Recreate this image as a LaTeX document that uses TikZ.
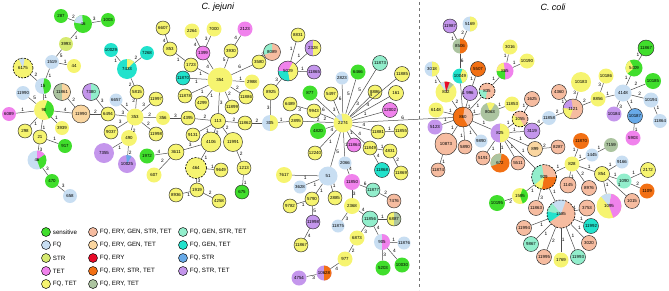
\documentclass[tikz,border=0pt]{standalone}
\usepackage{fontspec}
\setmainfont{Liberation Sans}
\usetikzlibrary{positioning}

% resistance profiles
\definecolor{cSens}{RGB}{64,222,44}
\definecolor{cFQ}{RGB}{200,222,242}
\definecolor{cSTR}{RGB}{214,234,112}
\definecolor{cTET}{RGB}{240,130,236}
\definecolor{cFQTET}{RGB}{246,244,112}
\definecolor{cFEGST}{RGB}{246,188,160}
\definecolor{cFEGT}{RGB}{250,214,160}
\definecolor{cFE}{RGB}{232,10,40}
\definecolor{cFEST}{RGB}{242,112,20}
\definecolor{cFET}{RGB}{172,196,160}
\definecolor{cFGST}{RGB}{146,238,204}
\definecolor{cFGT}{RGB}{34,226,204}
\definecolor{cFS}{RGB}{104,170,232}
\definecolor{cFST}{RGB}{196,150,236}

% one slice of a pie node: start angle, end angle, colour
\newcommand{\wdg}[3]{\fill[#3, x=1cm, y=1cm] (path picture bounding box.center) -- ++(#1:1) arc[start angle=#1, end angle=#2, radius=1] -- cycle;}

\begin{document}
\begin{tikzpicture}[
    x=1pt, y=-1pt,
    % GLOBAL CFG
    font=\fontsize{6.2}{7}\selectfont,
    % Styles
    stnode/.style={% one sequence type
        circle,
        inner sep=0pt,
        minimum size=14pt,
        font=\fontsize{4.4}{5}\selectfont,
        },
    ol/.style={% black rim
        draw=black!85,
        line width=.45pt,
        },
    dsh/.style={% dashed rim
        draw=black,
        line width=.6pt,
        dash pattern=on 2pt off 1.2pt,
        },
    pie/.style={% mixed profiles
        path picture={#1},
        },
    lnk/.style={% tree links
        draw=black!70,
        line width=.5pt,
        },
    lab/.style={% allele differences
        font=\fontsize{4.8}{5}\selectfont,
        inner sep=.7pt,
        auto,
        },
    key/.style={% legend dots
        circle,
        draw,
        line width=.45pt,
        minimum size=9pt,
        inner sep=0pt,
        },
    keytext/.style={% legend text
        inner sep=0pt,
        },
    ]

\useasboundingbox (0,0) rectangle (669,290);

% Titles and divider
\node [font=\fontsize{9}{10}\selectfont\itshape] (tjej) at (218,7) {C. jejuni};
\node [font=\fontsize{9}{10}\selectfont\itshape] (tcoli) at (553,7) {C. coli};
\coordinate (divtop) at (419,2);
\coordinate (divbot) at (419,290);
\draw [black!55, line width=.8pt, dash pattern=on 3pt off 3pt] (divtop) -- (divbot);

% C. jejuni, left part
\node [stnode, fill=cSens] (n287) at (61,16) {287};
\node [stnode, fill=cSens, minimum size=18pt, pie={\wdg{95}{170}{cFQ}}] (n46a) at (83,24) {46};
\node [stnode, fill=cSens] (n1003) at (108,20) {1003};
\node [stnode, fill=cSTR] (n3993) at (66,44) {3993};
\node [stnode, fill=cFQ] (n1519) at (52,62) {1519};
\node [stnode, fill=cFQTET] (n44) at (74,66) {44};
\node [stnode, fill=cFQTET, dsh, minimum size=20pt, pie={\wdg{80}{115}{cFQ}}] (n6175) at (23,68) {6175};
\node [stnode, fill=cFQ, minimum size=16pt, pie={\wdg{-80}{80}{cSens}}] (n15) at (43,86) {15};
\node [stnode, fill=cFQ] (n11990a) at (23,93) {11990};
\node [stnode, fill=cFQTET, minimum size=20pt, pie={\wdg{-60}{70}{cSens}}] (n90) at (44,110) {90};
\node [stnode, fill=cTET] (n6089) at (9,114) {6089};
\node [stnode, fill=cFQTET, ol] (n298) at (25,131) {298};
\node [stnode, fill=cFQTET, ol] (n21) at (40,137) {21};
\node [stnode, fill=cFQTET] (n3939) at (62,128) {3939};
\node [stnode, fill=cSens] (n917) at (65,146) {917};
\node [stnode, fill=cFQ, minimum size=19pt, pie={\wdg{35}{90}{cTET}\wdg{-70}{35}{cSens}}] (n46b) at (37,160) {46};
\node [stnode, fill=cSens] (n470) at (52,181) {470};
\node [stnode, fill=cFQ] (n658) at (70,196) {658};
\node [stnode, fill=cFET, ol, minimum size=17pt, pie={\wdg{-90}{90}{cFEGT}}] (n11861) at (62,92) {11861};
\node [stnode, fill=cFEGT, ol, minimum size=18pt] (n11990b) at (81,114) {11990};
\node [stnode, fill=cFST, ol, minimum size=17pt, pie={\wdg{-90}{90}{cFGST}}] (n7380) at (91,92) {7380};
\node [stnode, fill=cFQTET, ol] (n6494) at (108,114) {6494};
\node [stnode, fill=cFQ, minimum size=13pt] (n6657) at (116,100) {6657};
\node [stnode, fill=cFQTET, minimum size=17pt] (n353) at (135,117) {353};
\node [stnode, fill=cFGT] (n10029) at (111,50) {10029};
\node [stnode, fill=cFGT] (n7268) at (147,53) {7268};
\node [stnode, fill=cFGT, minimum size=20pt, pie={\wdg{45}{90}{cFQTET}}] (n7433) at (127,69) {7433};
\node [stnode, fill=cFQTET, ol] (n5815) at (137,92) {5815};
\node [stnode, fill=cFQTET, ol] (n11997) at (156,99) {11997};
\node [stnode, fill=cFQTET] (n356) at (163,118) {356};
\node [stnode, fill=cFQTET, ol] (n11998a) at (156,134) {11998};
\node [stnode, fill=cFQTET, ol] (n9037) at (111,132) {9037};
\node [stnode, fill=cFQTET, minimum size=16pt] (n490) at (129,138) {490};
\node [stnode, fill=cFST, minimum size=20pt] (n7355) at (104,153) {7355};
\node [stnode, fill=cFST, minimum size=18pt, pie={\wdg{60}{95}{cFS}}] (n10025) at (127,164) {10025};
\node [stnode, fill=cFQTET, ol] (n6607) at (163,28) {6607};
\node [stnode, fill=cFQTET, ol] (n4395) at (188,118) {4395};
\node [stnode, fill=cSens, minimum size=15pt] (n1972) at (147,156) {1972};
\node [stnode, fill=cFQTET, ol, minimum size=16pt] (n3611) at (176,152) {3611};
\node [stnode, fill=cFQTET, minimum size=15pt] (n607) at (154,175) {607};

% C. jejuni, around 354 and 113
\node [stnode, fill=cFQTET, ol] (n853) at (170,49) {853};
\node [stnode, fill=cFQTET, minimum size=15pt] (n2264) at (192,31) {2264};
\node [stnode, fill=cFQTET, minimum size=15pt] (n7000) at (214,29) {7000};
\node [stnode, fill=cTET, minimum size=15pt] (n2123) at (245,29) {2123};
\node [stnode, fill=cTET, ol] (n1399) at (203,53) {1399};
\node [stnode, fill=cFQTET, ol] (n3930) at (231,51) {3930};
\node [stnode, fill=cFEGST, ol, minimum size=17pt, pie={\wdg{90}{200}{cFGST}}] (n8089) at (272,52) {8089};
\node [stnode, fill=cFQTET, ol] (n1723) at (191,65) {1723};
\node [stnode, fill=cFQTET, ol] (n3580) at (259,62) {3580};
\node [stnode, fill=cFGT, ol] (n11870j) at (183,78) {11870};
\node [stnode, fill=cFQTET, minimum size=25pt] (n354) at (220,80) {354};
\node [stnode, fill=cFQTET, minimum size=15pt] (n2988) at (252,82) {2988};
\node [stnode, fill=cFQTET, ol] (n11878) at (185,96) {11878};
\node [stnode, fill=cFQTET, ol] (n11886) at (246,97) {11886};
\node [stnode, fill=cFQTET, ol] (n4299) at (202,103) {4299};
\node [stnode, fill=cFQTET, ol] (n11899) at (232,107) {11899};
\node [stnode, fill=cFQTET, ol] (n8831) at (298,35) {8831};
\node [stnode, fill=cFST, ol, minimum size=16pt, pie={\wdg{-90}{90}{cFQTET}}] (n2328) at (313,48) {2328};
\node [stnode, fill=cFST, ol, minimum size=20pt, pie={\wdg{60}{180}{cTET}\wdg{180}{280}{cFGT}\wdg{280}{420}{cFQTET}}] (n5029) at (288,71) {5029};
\node [stnode, fill=cFST, ol] (n11865) at (314,72) {11865};
\node [stnode, fill=cFQTET, ol, minimum size=16pt] (n8925) at (271,92) {8925};
\node [stnode, fill=cFQTET, ol, minimum size=15pt] (n113) at (218,121) {113};
\node [stnode, fill=cFQTET, ol] (n11862) at (245,123) {11862};
\node [stnode, fill=cFQ, minimum size=16pt, pie={\wdg{-90}{90}{cFQTET}}] (n305) at (270,123) {305};
\node [stnode, fill=cFQTET, ol] (n2895) at (296,121) {2895};
\node [stnode, fill=cFQTET, ol] (n9131) at (193,135) {9131};
\node [stnode, fill=cFQTET, ol, minimum size=20pt] (n4106) at (211,142) {4106};
\node [stnode, fill=cFQTET, ol, minimum size=19pt] (n11991) at (233,142) {11991};
\node [stnode, fill=cFQTET, dsh, minimum size=21pt] (n464) at (196,168) {464};
\node [stnode, fill=cFQTET, ol] (n9649) at (221,170) {9649};
\node [stnode, fill=cFQTET, ol] (n1213) at (244,168) {1213};
\node [stnode, fill=cSens, ol] (n675) at (242,192) {675};
\node [stnode, fill=cFQTET, ol] (n1919) at (197,190) {1919};
\node [stnode, fill=cFQTET, ol] (n8936) at (176,195) {8936};
\node [stnode, fill=cFQTET, ol] (n4258) at (219,201) {4258};

% C. jejuni, around 2274 and 51
\node [stnode, fill=cFQTET, minimum size=19pt, pie={\wdg{100}{140}{cFQ}}] (n2274) at (343,123) {2274};
\node [stnode, fill=cSens, minimum size=15pt] (n877) at (310,93) {877};
\node [stnode, fill=cFQTET, ol] (n6489) at (290,104) {6489};
\node [stnode, fill=cFQTET, ol] (n9943) at (314,111) {9943};
\node [stnode, fill=cSens, minimum size=16pt] (n4820) at (318,131) {4820};
\node [stnode, fill=cFQTET, ol] (n5497) at (331,94) {5497};
\node [stnode, fill=cFQ, minimum size=13pt] (n2823) at (342,78) {2823};
\node [stnode, fill=cSens, minimum size=15pt] (n6466) at (358,72) {6466};
\node [stnode, fill=cFGST, ol, minimum size=15pt] (n11873) at (380,63) {11873};
\node [stnode, fill=cFQTET, ol, minimum size=15pt] (n11885) at (402,74) {11885};
\node [stnode, fill=cFQTET, ol] (n8886) at (375,92) {8886};
\node [stnode, fill=cFQTET, ol, minimum size=15pt] (n161) at (396,93) {161};
\node [stnode, fill=cTET, ol, minimum size=15pt] (n12002) at (390,110) {12002};
\node [stnode, fill=cFQTET, ol] (n11881) at (378,132) {11881};
\node [stnode, fill=cFQTET, ol] (n11855) at (401,131) {11855};
\node [stnode, fill=cTET, ol] (n11864j) at (354,145) {11864};
\node [stnode, fill=cFQTET, ol] (n11849) at (370,148) {11849};
\node [stnode, fill=cFQTET, ol] (n4831) at (390,151) {4831};
\node [stnode, fill=cFQTET, ol] (n12240) at (315,153) {12240};
\node [stnode, fill=cFQ, minimum size=13pt] (n2066) at (345,163) {2066};
\node [stnode, fill=cFGT, ol, minimum size=15pt] (n11868) at (382,170) {11868};
\node [stnode, fill=cFQTET, ol] (n11869) at (401,173) {11869};
\node [stnode, fill=cFQ, minimum size=19pt] (n51) at (328,176) {51};
\node [stnode, fill=cFQTET, minimum size=16pt] (n7617) at (284,175) {7617};
\node [stnode, fill=cFQ, minimum size=13pt] (n3628) at (300,187) {3628};
\node [stnode, fill=cFQTET, ol] (n5790) at (312,199) {5790};
\node [stnode, fill=cFQTET, ol] (n9782) at (290,206) {9782};
\node [stnode, fill=cFQTET, ol] (n2885) at (335,198) {2885};
\node [stnode, fill=cFST, ol] (n11998b) at (313,222) {11998};
\node [stnode, fill=cFQTET, ol] (n11867j) at (301,245) {11867};
\node [stnode, fill=cTET, minimum size=16pt] (n11850) at (352,182) {11850};
\node [stnode, fill=cFGST, ol] (n11877) at (373,190) {11877};
\node [stnode, fill=cFEGST, ol] (n7476) at (394,201) {7476};
\node [stnode, fill=cFQTET, minimum size=16pt] (n2368) at (352,206) {2368};
\node [stnode, fill=cFQ, minimum size=13pt] (n11875) at (338,226) {11875};
\node [stnode, fill=cFGST, ol, minimum size=16pt] (n11856) at (370,219) {11856};
\node [stnode, fill=cFQTET, ol, pie={\wdg{-90}{90}{cFET}}] (n6887) at (394,219) {6887};
\node [stnode, fill=cFQTET, minimum size=15pt] (n6873) at (357,238) {6873};
\node [stnode, fill=cFQ, minimum size=16pt, pie={\wdg{-90}{90}{cTET}}] (n905) at (382,242) {905};
\node [stnode, fill=cFQ, minimum size=13pt] (n11876) at (404,243) {11876};
\node [stnode, fill=cFQTET, minimum size=15pt] (n977) at (345,259) {977};
\node [stnode, fill=cSens, minimum size=15pt] (n5203) at (383,268) {5203};
\node [stnode, fill=cSens, minimum size=15pt] (n10030) at (402,265) {10030};
\node [stnode, fill=cFST, minimum size=15pt, pie={\wdg{-90}{90}{cFEST}}] (n10628) at (324,273) {10628};
\node [stnode, fill=cFST, minimum size=15pt] (n4754) at (299,278) {4754};

% C. coli, around 860 and 825
\node [stnode, fill=cFST, ol] (n11987) at (450,26) {11987};
\node [stnode, fill=cFQ, minimum size=15pt, pie={\wdg{-90}{90}{cFQTET}}] (n5169) at (470,24) {5169};
\node [stnode, fill=cFET, minimum size=15pt, pie={\wdg{-90}{90}{cFEST}}] (n8506) at (460,46) {8506};
\node [stnode, fill=cFQ, minimum size=15pt, pie={\wdg{-90}{90}{cFQTET}}] (n3018) at (432,69) {3018};
\node [stnode, fill=cFGT, minimum size=15pt, pie={\wdg{-70}{70}{cFQTET}}] (n10049) at (460,76) {10049};
\node [stnode, fill=cFEST, ol, minimum size=15pt] (n5507) at (478,69) {5507};
\node [stnode, fill=cTET, minimum size=17pt, pie={\wdg{100}{180}{cFQTET}\wdg{180}{270}{cSens}}] (n865) at (505,71) {865};
\node [stnode, fill=cFQTET, minimum size=15pt] (n3016) at (510,47) {3016};
\node [stnode, fill=cFQTET, minimum size=15pt] (n10190) at (527,61) {10190};
\node [stnode, fill=cFQTET, minimum size=21pt, pie={\wdg{45}{70}{cFET}\wdg{70}{100}{cFE}\wdg{100}{125}{cFQ}}] (n832) at (446,92) {832};
\node [stnode, fill=cFST, ol, minimum size=15pt] (n996) at (470,93) {996};
\node [stnode, fill=cFEGST, dsh, minimum size=16pt, pie={\wdg{170}{260}{cFGST}}] (n835) at (487,91) {835};
\node [stnode, fill=cFET, minimum size=19pt, pie={\wdg{60}{110}{cFQTET}}] (n8063) at (490,112) {8063};
\node [stnode, fill=cFQTET, minimum size=15pt] (n11853) at (512,104) {11853};
\node [stnode, fill=cFEGST, ol, minimum size=15pt] (n1625) at (532,99) {1625};
\node [stnode, fill=cFEGST, ol, minimum size=15pt] (n4360) at (559,92) {4360};
\node [stnode, fill=cFQTET, minimum size=15pt] (n6148) at (436,110) {6148};
\node [stnode, fill=cFEST, ol, minimum size=20pt, pie={\wdg{-60}{80}{cFEGST}}] (n860) at (463,117) {860};
\node [stnode, fill=cFST, minimum size=15pt] (n5123) at (435,127) {5123};
\node [stnode, fill=cFEGST, ol, minimum size=22pt] (n10873) at (446,144) {10873};
\node [stnode, fill=cFEGST, ol] (n5890) at (465,147) {5890};
\node [stnode, fill=cFQ, minimum size=13pt] (n9890) at (481,141) {9890};
\node [stnode, fill=cFEGST, ol] (n11874c) at (438,170) {11874};
\node [stnode, fill=cFEGST, dsh, minimum size=16pt, pie={\wdg{150}{300}{cFQTET}}] (n1055) at (520,119) {1055};
\node [stnode, fill=cFQ, minimum size=14pt] (n11858) at (549,118) {11858};
\node [stnode, fill=cFST, minimum size=19pt, pie={\wdg{-90}{90}{cFQTET}}] (n825) at (500,133) {825};
\node [stnode, fill=cFST, ol, minimum size=16pt] (n3119) at (532,131) {3119};
\node [stnode, fill=cFEGT, ol, minimum size=15pt] (n899) at (535,149) {899};
\node [stnode, fill=cFEGST, ol] (n8287) at (558,147) {8287};
\node [stnode, fill=cFEGST, ol] (n5191) at (483,158) {5191};
\node [stnode, fill=cFEST, minimum size=19pt, pie={\wdg{80}{200}{cFET}}] (n672) at (500,163) {672};
\node [stnode, fill=cFEGST, ol] (n5511) at (518,163) {5511};

% C. coli, around 1121 and 4148
\node [stnode, fill=cFQTET, minimum size=20pt] (n10183) at (581,82) {10183};
\node [stnode, fill=cFEGST, ol, minimum size=20pt, pie={\wdg{100}{175}{cFST}\wdg{175}{250}{cFQTET}}] (n1121) at (573,109) {1121};
\node [stnode, fill=cFQTET, minimum size=15pt] (n8856) at (598,99) {8856};
\node [stnode, fill=cFQTET, minimum size=15pt] (n10186) at (606,76) {10186};
\node [stnode, fill=cFQ, minimum size=17pt] (n4148) at (623,93) {4148};
\node [stnode, fill=cSens, minimum size=17pt, pie={\wdg{120}{220}{cFQTET}}] (n5409) at (634,68) {5409};
\node [stnode, fill=cSens, ol, minimum size=16pt] (n11867c) at (646,48) {11867};
\node [stnode, fill=cSens, minimum size=16pt] (n10185) at (653,81) {10185};
\node [stnode, fill=cFQ, minimum size=15pt] (n10194) at (651,100) {10194};
\node [stnode, fill=cFST, minimum size=15pt] (n10184) at (614,114) {10184};
\node [stnode, fill=cFS, ol, minimum size=15pt] (n10187) at (635,116) {10187};
\node [stnode, fill=cFQ, minimum size=14pt] (n11864c) at (660,121) {11864};
\node [stnode, fill=cTET, minimum size=15pt] (n5903) at (633,138) {5903};

% C. coli, around 929, 828 and 1585
\node [stnode, fill=cFEST, minimum size=16pt] (n11870c) at (581,141) {11870};
\node [stnode, fill=cFET, minimum size=14pt] (n7159) at (611,145) {7159};
\node [stnode, fill=cFQ, minimum size=13pt] (n1445) at (592,155) {1445};
\node [stnode, fill=cFQ, minimum size=13pt] (n9166) at (622,162) {9166};
\node [stnode, fill=cFQTET, minimum size=15pt] (n828) at (572,164) {828};
\node [stnode, fill=cFQTET, ol, minimum size=15pt] (n854) at (602,174) {854};
\node [stnode, fill=cFQTET, ol, minimum size=15pt] (n2172) at (648,170) {2172};
\node [stnode, fill=cFGST, dsh, minimum size=25pt, pie={\wdg{0}{100}{cFEGST}\wdg{-100}{0}{cFEST}\wdg{220}{260}{cFQTET}}] (n929) at (544,177) {929};
\node [stnode, fill=cFEGST, ol, minimum size=16pt] (n1145) at (568,185) {1145};
\node [stnode, fill=cFEGST, ol, minimum size=15pt] (n8976) at (589,188) {8976};
\node [stnode, fill=cFGST, minimum size=15pt] (n1090) at (624,181) {1090};
\node [stnode, fill=cFEST, minimum size=15pt] (n1109) at (647,191) {1109};
\node [stnode, fill=cFEGST, ol, minimum size=15pt] (n1015) at (632,201) {1015};
\node [stnode, fill=cFQTET, minimum size=25pt, pie={\wdg{-70}{80}{cTET}\wdg{80}{130}{cFQ}}] (n1095) at (609,206) {1095};
\node [stnode, fill=cFQTET, minimum size=16pt, pie={\wdg{-70}{70}{cSens}}] (n1595) at (520,196) {1595};
\node [stnode, fill=cSens, minimum size=16pt] (n10195) at (497,203) {10195};
\node [stnode, fill=cFEGST, ol, minimum size=15pt] (n11863) at (536,208) {11863};
\node [stnode, fill=cFEGST, dsh, minimum size=28pt, pie={\wdg{70}{130}{cFQ}\wdg{130}{170}{cFGST}\wdg{170}{215}{cFGT}}] (n1585) at (561,214) {1585};
\node [stnode, fill=cFEGST, ol, minimum size=16pt] (n3753) at (587,208) {3753};
\node [stnode, fill=cFEGST, ol, minimum size=15pt] (n11994) at (524,228) {11994};
\node [stnode, fill=cFGT, ol, minimum size=15pt] (n11992) at (591,226) {11992};
\node [stnode, fill=cFGST, ol, minimum size=15pt] (n9867) at (531,244) {9867};
\node [stnode, fill=cFEGST, ol, minimum size=15pt] (n3020) at (589,243) {3020};
\node [stnode, fill=cFEGST, ol, minimum size=15pt] (n11995) at (544,257) {11995};
\node [stnode, fill=cFQTET, minimum size=15pt] (n1769) at (561,260) {1769};
\node [stnode, fill=cFGST, ol, minimum size=15pt] (n11993) at (578,257) {11993};

% Links, C. jejuni left part
\draw [lnk] (n287) -- node[lab]{2} (n46a);
\draw [lnk] (n46a) -- node[lab]{3} (n1003);
\draw [lnk] (n46a) -- node[lab]{1} (n3993);
\draw [lnk] (n3993) -- node[lab]{5} (n1519);
\draw [lnk] (n1519) -- node[lab]{1} (n44);
\draw [lnk] (n1519) -- node[lab]{1} (n15);
\draw [lnk] (n6175) -- node[lab]{2} (n15);
\draw [lnk] (n15) -- node[lab]{1} (n90);
\draw [lnk] (n11990a) -- node[lab]{5} (n90);
\draw [lnk] (n6089) -- node[lab]{1} (n90);
\draw [lnk] (n90) -- node[lab]{1} (n298);
\draw [lnk] (n90) -- node[lab]{1} (n21);
\draw [lnk] (n90) -- node[lab]{1} (n3939);
\draw [lnk] (n90) -- node[lab]{4} (n11990b);
\draw [lnk] (n11861) -- node[lab]{2} (n11990b);
\draw [lnk] (n11990b) -- node[lab]{2} (n6494);
\draw [lnk] (n7380) -- node[lab]{3} (n6494);
\draw [lnk] (n6494) -- node[lab]{3} (n353);
\draw [lnk] (n6657) -- node[lab]{1} (n353);
\draw [lnk] (n9037) -- node[lab]{3} (n353);
\draw [lnk] (n353) -- node[lab]{2} (n490);
\draw [lnk] (n353) -- node[lab]{2} (n5815);
\draw [lnk] (n5815) -- node[lab]{2} (n7433);
\draw [lnk] (n7433) -- node[lab]{1} (n10029);
\draw [lnk] (n7433) -- node[lab]{2} (n7268);
\draw [lnk] (n353) -- node[lab]{3} (n11997);
\draw [lnk] (n353) -- node[lab]{2} (n356);
\draw [lnk] (n353) -- node[lab]{2} (n11998a);
\draw [lnk] (n21) -- node[lab]{1} (n917);
\draw [lnk] (n21) -- node[lab]{3} (n46b);
\draw [lnk] (n46b) -- node[lab]{3} (n470);
\draw [lnk] (n470) -- node[lab]{3} (n658);
\draw [lnk] (n490) -- node[lab]{1} (n7355);
\draw [lnk] (n490) -- node[lab]{2} (n10025);
\draw [lnk] (n356) -- node[lab]{3} (n4395);
\draw [lnk] (n4395) -- node[lab]{2} (n113);
\draw [lnk] (n1972) -- node[lab]{4} (n3611);
\draw [lnk] (n607) -- node[lab]{2} (n3611);
\draw [lnk] (n3611) -- node[lab]{3} (n4106);

% Links, around 354 and 113
\draw [lnk] (n113) -- node[lab]{1} (n9131);
\draw [lnk] (n113) -- node[lab]{2} (n4106);
\draw [lnk] (n113) -- node[lab]{2} (n11991);
\draw [lnk] (n113) -- node[lab]{2} (n11862);
\draw [lnk] (n354) -- node[lab]{3} (n113);
\draw [lnk] (n11862) -- node[lab]{2} (n305);
\draw [lnk] (n305) -- node[lab]{3} (n8925);
\draw [lnk] (n305) -- node[lab]{1} (n2895);
\draw [lnk] (n4106) -- node[lab]{1} (n464);
\draw [lnk] (n464) -- node[lab]{1} (n9649);
\draw [lnk] (n464) -- node[lab]{3} (n1919);
\draw [lnk] (n1919) -- node[lab]{1} (n8936);
\draw [lnk] (n1919) -- node[lab]{2} (n4258);
\draw [lnk] (n11991) -- node[lab]{2} (n1213);
\draw [lnk] (n1213) -- node[lab]{1} (n675);
\draw [lnk] (n354) -- node[lab]{1} (n1723);
\draw [lnk] (n354) -- node[lab]{1} (n11870j);
\draw [lnk] (n354) -- node[lab]{1} (n11878);
\draw [lnk] (n354) -- node[lab]{1} (n4299);
\draw [lnk] (n354) -- node[lab]{2} (n11899);
\draw [lnk] (n354) -- node[lab]{2} (n11886);
\draw [lnk] (n354) -- node[lab]{1} (n2988);
\draw [lnk] (n354) -- node[lab]{6} (n3580);
\draw [lnk] (n354) -- node[lab]{5} (n3930);
\draw [lnk] (n354) -- node[lab]{4} (n1399);
\draw [lnk] (n1723) -- node[lab]{1} (n853);
\draw [lnk] (n853) -- node[lab]{4} (n6607);
\draw [lnk] (n1399) -- node[lab]{4} (n2264);
\draw [lnk] (n1399) -- node[lab]{3} (n7000);
\draw [lnk] (n3930) -- node[lab]{4} (n2123);
\draw [lnk] (n3580) -- node[lab]{2} (n8089);
\draw [lnk] (n8925) -- node[lab]{3} (n5029);
\draw [lnk] (n5029) -- node[lab]{1} (n8831);
\draw [lnk] (n5029) -- node[lab]{1} (n2328);
\draw [lnk] (n5029) -- node[lab]{1} (n11865);

% Links, around 2274 and 51
\draw [lnk] (n2895) -- node[lab]{2} (n2274);
\draw [lnk] (n2274) -- node[lab]{6} (n2823);
\draw [lnk] (n2274) -- node[lab]{5} (n6466);
\draw [lnk] (n2274) -- node[lab]{5} (n11873);
\draw [lnk] (n2274) -- node[lab]{3} (n8886);
\draw [lnk] (n2274) -- node[lab]{4} (n11885);
\draw [lnk] (n2274) -- node[lab]{4} (n161);
\draw [lnk] (n2274) -- node[lab]{1} (n12002);
\draw [lnk] (n2274) -- node[lab]{3} (n5497);
\draw [lnk] (n2274) -- node[lab]{6} (n877);
\draw [lnk] (n2274) -- node[lab]{2} (n9943);
\draw [lnk] (n9943) -- node[lab]{3} (n6489);
\draw [lnk] (n2274) -- node[lab]{4} (n4820);
\draw [lnk] (n2274) -- node[lab]{1} (n12240);
\draw [lnk] (n2274) -- node[lab]{5} (n51);
\draw [lnk] (n2274) -- node[lab]{1} (n2066);
\draw [lnk] (n2274) -- node[lab]{1} (n11864j);
\draw [lnk] (n2274) -- node[lab]{4} (n11849);
\draw [lnk] (n2274) -- node[lab]{4} (n11881);
\draw [lnk] (n11881) -- node[lab]{1} (n11855);
\draw [lnk] (n11849) -- node[lab]{1} (n4831);
\draw [lnk] (n4831) -- node[lab]{2} (n11869);
\draw [lnk] (n11849) -- node[lab]{4} (n11868);
\draw [lnk] (n51) -- node[lab]{1} (n7617);
\draw [lnk] (n51) -- node[lab]{1} (n3628);
\draw [lnk] (n51) -- node[lab]{1} (n5790);
\draw [lnk] (n51) -- node[lab]{1} (n2885);
\draw [lnk] (n5790) -- node[lab]{1} (n9782);
\draw [lnk] (n5790) -- node[lab]{5} (n11998b);
\draw [lnk] (n11998b) -- node[lab]{4} (n11867j);
\draw [lnk] (n2066) -- node[lab]{4} (n11850);
\draw [lnk] (n11850) -- node[lab]{6} (n11877);
\draw [lnk] (n11877) -- node[lab]{2} (n7476);
\draw [lnk] (n11850) -- node[lab]{3} (n2368);
\draw [lnk] (n2368) -- node[lab]{3} (n11875);
\draw [lnk] (n2368) -- node[lab]{4} (n11856);
\draw [lnk] (n11856) -- node[lab]{1} (n6887);
\draw [lnk] (n11856) -- node[lab]{3} (n6873);
\draw [lnk] (n11856) -- node[lab]{4} (n905);
\draw [lnk] (n905) -- node[lab]{1} (n11876);
\draw [lnk] (n905) -- node[lab]{3} (n5203);
\draw [lnk] (n905) -- node[lab]{4} (n10030);
\draw [lnk] (n6873) -- node[lab]{2} (n977);
\draw [lnk] (n977) -- node[lab]{4} (n10628);
\draw [lnk] (n10628) -- node[lab]{3} (n4754);

% Link across the divider
\draw [lnk] (n2274) -- node[lab]{6} (n860);

% Links, C. coli
\draw [lnk] (n8506) -- node[lab]{1} (n11987);
\draw [lnk] (n8506) -- node[lab]{2} (n5169);
\draw [lnk] (n8506) -- node[lab]{6} (n10049);
\draw [lnk] (n10049) -- node[lab]{1} (n860);
\draw [lnk] (n832) -- node[lab]{1} (n3018);
\draw [lnk] (n832) -- node[lab]{2} (n860);
\draw [lnk] (n996) -- node[lab]{1} (n860);
\draw [lnk] (n996) -- node[lab]{1} (n5507);
\draw [lnk] (n835) -- node[lab]{1} (n860);
\draw [lnk] (n835) -- node[lab]{1} (n865);
\draw [lnk] (n865) -- node[lab]{1} (n3016);
\draw [lnk] (n865) -- node[lab]{1} (n10190);
\draw [lnk] (n860) -- node[lab]{1} (n8063);
\draw [lnk] (n8063) -- node[lab]{1} (n11853);
\draw [lnk] (n6148) -- node[lab]{1} (n860);
\draw [lnk] (n5123) -- node[lab]{1} (n860);
\draw [lnk] (n10873) -- node[lab]{1} (n860);
\draw [lnk] (n5890) -- node[lab]{1} (n860);
\draw [lnk] (n9890) -- node[lab]{1} (n860);
\draw [lnk] (n10873) -- node[lab]{1} (n11874c);
\draw [lnk] (n860) -- node[lab]{1} (n825);
\draw [lnk] (n825) -- node[lab]{1} (n1055);
\draw [lnk] (n1055) -- node[lab]{1} (n1625);
\draw [lnk] (n825) -- node[lab]{1} (n3119);
\draw [lnk] (n3119) -- node[lab]{4} (n11858);
\draw [lnk] (n11858) -- node[lab]{2} (n1121);
\draw [lnk] (n1121) -- node[lab]{1} (n4360);
\draw [lnk] (n1121) -- node[lab]{3} (n10183);
\draw [lnk] (n1121) -- node[lab]{2} (n8856);
\draw [lnk] (n8856) -- node[lab]{3} (n10186);
\draw [lnk] (n8856) -- node[lab]{1} (n4148);
\draw [lnk] (n4148) -- node[lab]{1} (n5409);
\draw [lnk] (n5409) -- node[lab]{1} (n11867c);
\draw [lnk] (n4148) -- node[lab]{2} (n10185);
\draw [lnk] (n4148) -- node[lab]{3} (n10184);
\draw [lnk] (n4148) -- node[lab]{1} (n10187);
\draw [lnk] (n4148) -- node[lab]{2} (n10194);
\draw [lnk] (n10194) -- node[lab]{1} (n11864c);
\draw [lnk] (n10187) -- node[lab]{1} (n5903);
\draw [lnk] (n825) -- node[lab]{1} (n899);
\draw [lnk] (n899) -- node[lab]{2} (n8287);
\draw [lnk] (n825) -- node[lab]{1} (n5511);
\draw [lnk] (n825) -- node[lab]{1} (n672);
\draw [lnk] (n825) -- node[lab]{1} (n5191);
\draw [lnk] (n825) -- node[lab]{1} (n929);
\draw [lnk] (n929) -- node[lab]{1} (n828);
\draw [lnk] (n929) -- node[lab]{1} (n1595);
\draw [lnk] (n929) -- node[lab]{3} (n11863);
\draw [lnk] (n929) -- node[lab]{1} (n1585);
\draw [lnk] (n828) -- node[lab]{1} (n11870c);
\draw [lnk] (n828) -- node[lab]{1} (n1445);
\draw [lnk] (n828) -- node[lab]{1} (n1145);
\draw [lnk] (n828) -- node[lab]{2} (n8976);
\draw [lnk] (n828) -- node[lab]{1} (n854);
\draw [lnk] (n1445) -- node[lab]{1} (n7159);
\draw [lnk] (n854) -- node[lab]{1} (n9166);
\draw [lnk] (n854) -- node[lab]{1} (n1090);
\draw [lnk] (n854) -- node[lab]{1} (n1015);
\draw [lnk] (n854) -- node[lab]{1} (n1095);
\draw [lnk] (n1090) -- node[lab]{1} (n2172);
\draw [lnk] (n1090) -- node[lab]{2} (n1109);
\draw [lnk] (n1595) -- node[lab]{2} (n10195);
\draw [lnk] (n1585) -- node[lab]{1} (n3753);
\draw [lnk] (n1585) -- node[lab]{1} (n11992);
\draw [lnk] (n1585) -- node[lab]{1} (n3020);
\draw [lnk] (n1585) -- node[lab]{1} (n11993);
\draw [lnk] (n1585) -- node[lab]{1} (n1769);
\draw [lnk] (n1585) -- node[lab]{2} (n11995);
\draw [lnk] (n1585) -- node[lab]{1} (n9867);
\draw [lnk] (n1585) -- node[lab]{1} (n11994);

% Legend
\foreach \c/\t [count=\i] in {cSens/sensitive, cFQ/FQ, cSTR/STR, cTET/TET, cFQTET/{FQ, TET}}{
    \node [key, fill=\c] (ka\i) at (46,219+13*\i) {};
    \node [keytext, right=2pt of ka\i] (kta\i) {\t};
}
\foreach \c/\t [count=\i] in {cFEGST/{FQ, ERY, GEN, STR, TET}, cFEGT/{FQ, ERY, GEN, TET}, cFE/{FQ, ERY}, cFEST/{FQ, ERY, STR, TET}, cFET/{FQ, ERY, TET}}{
    \node [key, fill=\c] (kb\i) at (93,219+13*\i) {};
    \node [keytext, right=2pt of kb\i] (ktb\i) {\t};
}
\foreach \c/\t [count=\i] in {cFGST/{FQ, GEN, STR, TET}, cFGT/{FQ, GEN, TET}, cFS/{FQ, STR}, cFST/{FQ, STR, TET}}{
    \node [key, fill=\c] (kc\i) at (183,219+13*\i) {};
    \node [keytext, right=2pt of kc\i] (ktc\i) {\t};
}

\end{tikzpicture}
\end{document}
